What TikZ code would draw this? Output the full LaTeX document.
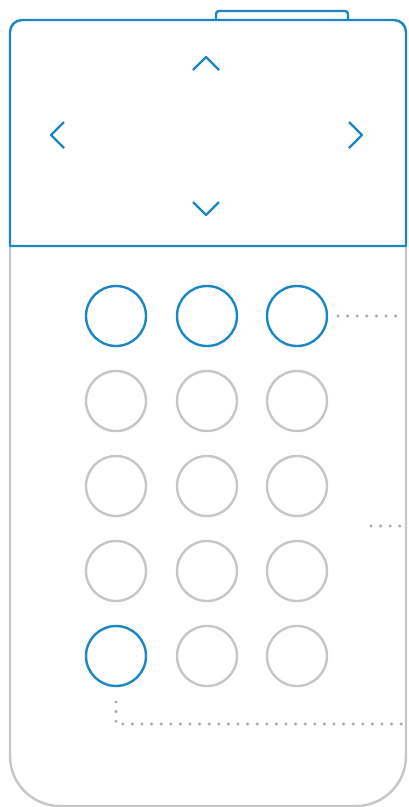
\documentclass[tikz,border=0pt]{standalone}
\usepackage{tikz}
\usetikzlibrary{positioning}

\definecolor{keyblue}{HTML}{1A86C2}
\definecolor{shellgray}{HTML}{C6C6C6}
\definecolor{dotgray}{HTML}{A9A9AD}

\begin{document}
\begin{tikzpicture}[x=1pt, y=-1pt, line join=round,
    key/.style={circle, draw=shellgray, line width=2.4pt, minimum size=60pt, inner sep=0pt, outer sep=0pt},
    hot/.style={key, draw=keyblue},
    chevron/.style={draw=keyblue, line width=2.4pt},
    leader/.style={draw=dotgray, line width=3.4pt, line cap=round, dash pattern=on 0pt off 9.6pt}]
    \useasboundingbox (0,0) rectangle (408,807);

    % body and screen
    \draw[shellgray, line width=2.4pt, rounded corners=50pt] (10,246) -- (10,806) -- (406,806) -- (406,246);
    \draw[keyblue, line width=2.4pt, rounded corners=3pt] (216,20) -- (216,11) -- (348,11) -- (348,20);
    \draw[keyblue, line width=2.4pt] (10,246) [rounded corners=12pt] -- (10,20) -- (406,20) [sharp corners] -- (406,246) -- cycle;

    % arrows on the screen
    \draw[chevron] (193,70) -- (206,57) -- (219,70);
    \draw[chevron] (193,202) -- (206,215) -- (219,202);
    \draw[chevron] (64,122) -- (51,135) -- (64,148);
    \draw[chevron] (349,122) -- (362,135) -- (349,148);

    % keypad
    \node[hot] (k11) at (116,316) {};
    \node[hot, right=31pt of k11] (k12) {};
    \node[hot, right=30pt of k12] (k13) {};
    \node[key, below=25pt of k11] (k21) {};
    \node[key, below=25pt of k12] (k22) {};
    \node[key, below=25pt of k13] (k23) {};
    \node[key, below=25pt of k21] (k31) {};
    \node[key, below=25pt of k22] (k32) {};
    \node[key, below=25pt of k23] (k33) {};
    \node[key, below=25pt of k31] (k41) {};
    \node[key, below=25pt of k32] (k42) {};
    \node[key, below=25pt of k33] (k43) {};
    \node[hot, below=25pt of k41] (k51) {};
    \node[key, below=25pt of k42] (k52) {};
    \node[key, below=25pt of k43] (k53) {};

    % leaders
    \coordinate (top end) at (400,316);
    \coordinate (mid start) at (371,526);
    \coordinate (mid end) at (400,526);
    \coordinate (low bend) at (116,724);
    \coordinate (low end) at (402,724);
    \draw[leader] ([xshift=11pt]k13.east) -- (top end);
    \draw[leader] (mid start) -- (mid end);
    \draw[leader] ([yshift=-16pt]k51.south) -- (low bend) -- (low end);
\end{tikzpicture}
\end{document}
